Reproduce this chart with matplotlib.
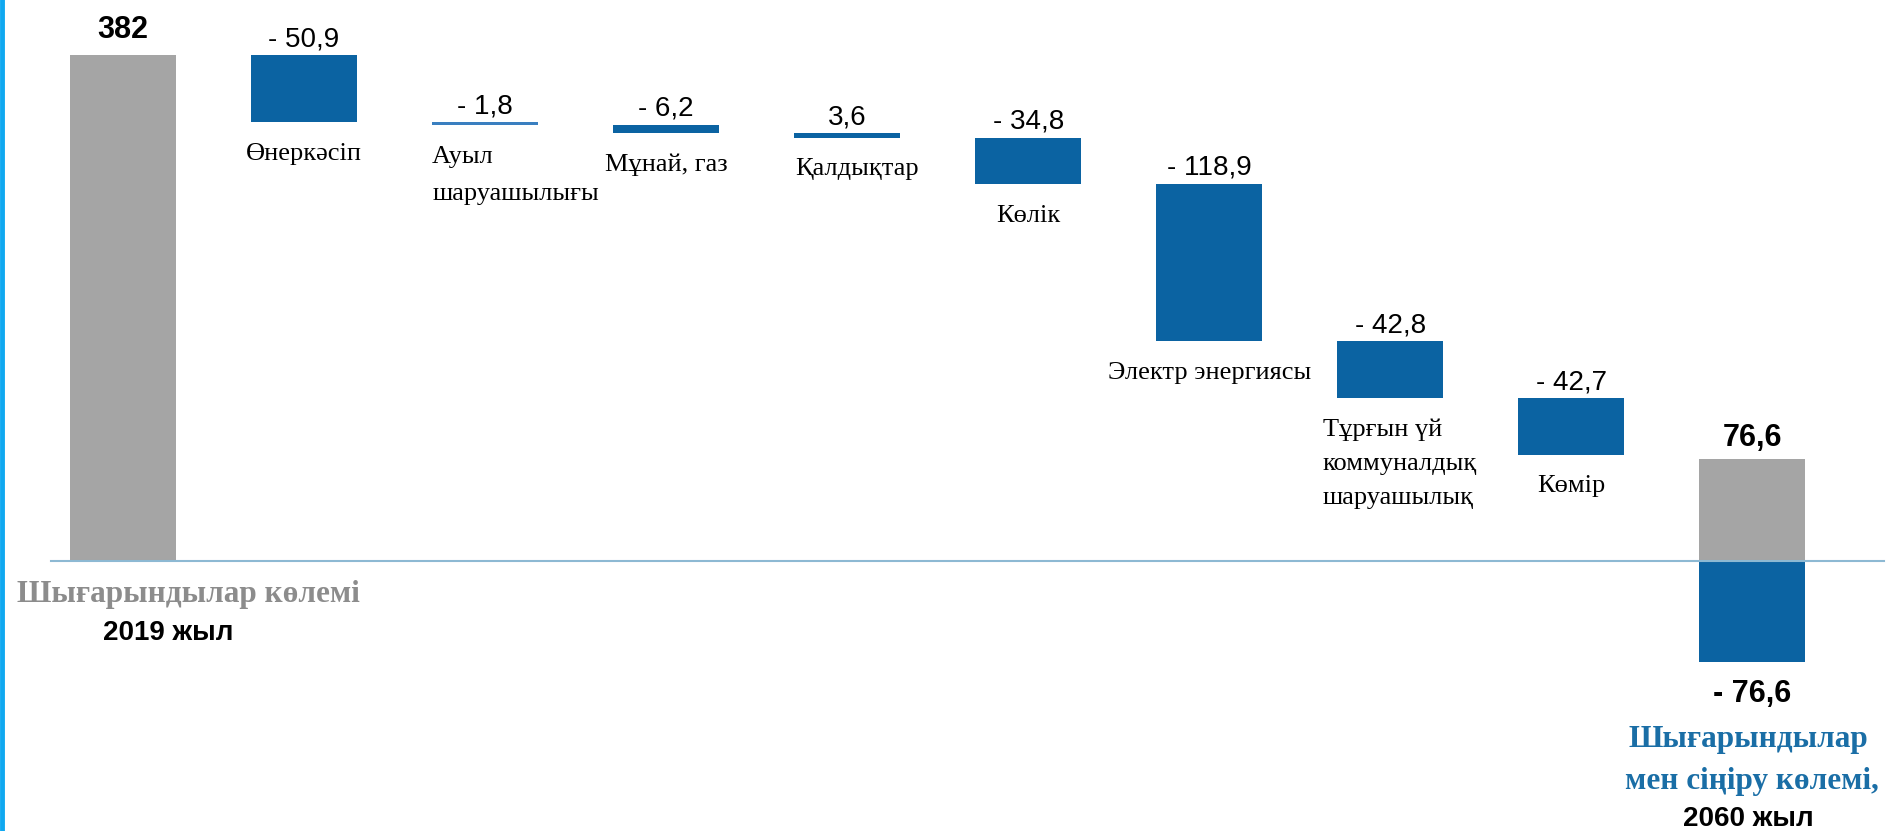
import matplotlib
matplotlib.use('Agg')
import matplotlib.pyplot as plt
import numpy as np

start_value = 382
start_label = '382'
categories = ['Өнеркәсіп', 'Ауыл\nшаруашылығы', 'Мұнай, газ', 'Қалдықтар', 'Көлік',
              'Электр энергиясы', 'Тұрғын үй\nкоммуналдық\nшаруашылық', 'Көмір']
changes = [-50.9, -1.8, -6.2, -3.6, -34.8, -118.9, -42.8, -42.7]
change_labels = ['- 50,9', '- 1,8', '- 6,2', '3,6', '- 34,8', '- 118,9', '- 42,8', '- 42,7']
end_emission = 76.6
end_absorption = -76.6
end_labels = ['76,6', '- 76,6']

GRAY = '#a5a5a5'
BLUE = '#0b63a2'
SANS = ['Liberation Sans', 'DejaVu Sans']
SERIF = ['Liberation Serif', 'DejaVu Serif']

fig = plt.figure(figsize=(18.88, 8.31), dpi=100)
ax = fig.add_axes([0, 0, 1, 1])
ax.set_xlim(-0.68, 9.75)
ax.set_ylim(-203.8, 423.4)
ax.axis('off')

w = 0.585

# left start bar
ax.bar(0, start_value, width=w, color=GRAY)
ax.annotate(start_label, (0, start_value), xytext=(0, 7), textcoords='offset points',
            ha='center', va='bottom', fontsize=22, fontweight='bold', family=SANS)

# falling steps
level = start_value
for i, (c, v, lab) in enumerate(zip(categories, changes, change_labels)):
    x = i + 1
    top = level
    level = level + v
    thin = abs(v) < 3
    ax.bar(x, -v, bottom=level, width=w, color='#3a7fc0' if thin else BLUE)
    ax.annotate(lab, (x, top), xytext=(0, 2), textcoords='offset points',
                ha='center', va='bottom', fontsize=20, family=SANS)
    if '\n' in c:
        ls = 1.9 if c.count('\n') == 1 else 1.7
        ax.annotate(c, (x - w / 2 - (0.08 if i == 6 else 0), level), xytext=(0, -15),
                    textcoords='offset points', ha='left', va='top', fontsize=19,
                    family=SERIF, linespacing=ls)
    else:
        dx = 7 if i == 3 else 0
        ax.annotate(c, (x, level), xytext=(dx, -15), textcoords='offset points',
                    ha='center', va='top', fontsize=19, family=SERIF)

# right end bars
xe = len(categories) + 1
ax.bar(xe, end_emission, width=w, color=GRAY)
ax.bar(xe, end_absorption, width=w, color=BLUE)
ax.annotate(end_labels[0], (xe, end_emission), xytext=(0, 5), textcoords='offset points',
            ha='center', va='bottom', fontsize=22, fontweight='bold', family=SANS)
ax.annotate(end_labels[1], (xe, end_absorption), xytext=(0, -12), textcoords='offset points',
            ha='center', va='top', fontsize=22, fontweight='bold', family=SANS)

# zero line
ax.plot([-0.4, 9.73], [0, 0], color='#8db9d3', lw=1.5)

# bottom captions
ax.text(0.1, 0.285, 'Шығарындылар көлемі', transform=ax.transAxes, fontsize=22.5,
        fontweight='bold', family=SERIF, color='#8c8c8c', ha='center', va='center')
ax.text(0.089, 0.238, '2019 жыл', transform=ax.transAxes, fontsize=20,
        fontweight='bold', family=SANS, color='black', ha='center', va='center')
ax.text(0.926, 0.11, 'Шығарындылар', transform=ax.transAxes,
        fontsize=22.5, fontweight='bold', family=SERIF, color='#1a6ea6', ha='center',
        va='center')
ax.text(0.928, 0.06, 'мен сіңіру көлемі,', transform=ax.transAxes,
        fontsize=22.5, fontweight='bold', family=SERIF, color='#1a6ea6', ha='center',
        va='center')
ax.text(0.926, 0.015, '2060 жыл', transform=ax.transAxes, fontsize=20,
        fontweight='bold', family=SANS, color='black', ha='center', va='center')

# cyan frame on the left edge
fig.add_artist(plt.Line2D([0.001, 0.001], [0, 1], color='#10a8f0', lw=3.5,
                          transform=fig.transFigure))

fig.savefig('out.png', dpi=100)
